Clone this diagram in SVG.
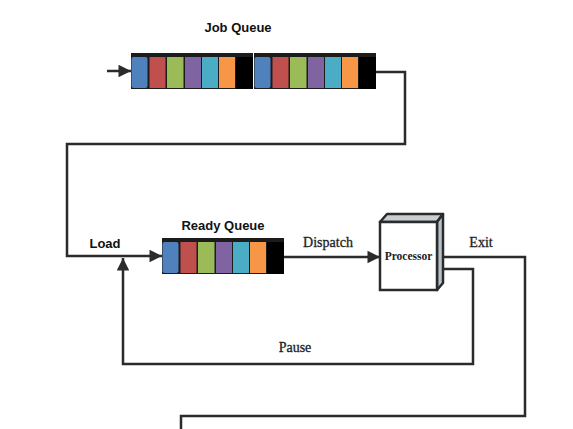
<svg xmlns="http://www.w3.org/2000/svg" width="573" height="429" viewBox="0 0 573 429">
<style>
.ln{fill:none;stroke:#2b2b2b;stroke-width:2.5;stroke-linejoin:miter}
.ttl{font-family:"Liberation Sans",Arial,sans-serif;font-weight:bold;font-size:13px;fill:#111}
.lbl{font-family:"Liberation Serif","Times New Roman",serif;font-size:14px;fill:#222;stroke:#222;stroke-width:0.3}
.q{fill:#1c1c1c}
.b{fill:#4f81bd}.r{fill:#c0504d}.g{fill:#9bbb59}.p{fill:#8064a2}.c{fill:#4bacc6}.o{fill:#f79646}.k{fill:#000}
</style>
<defs>
<marker id="ah" viewBox="0 0 10 10" refX="10" refY="5" markerWidth="6" markerHeight="5" markerUnits="strokeWidth" orient="auto">
<path d="M0,0 L10,5 L0,10 Z" fill="#2b2b2b"/>
</marker>
<g id="queueCells">
<rect class="q" x="0" y="0" width="122" height="36"/>
<rect class="b" x="0.5" y="4" width="16" height="31" rx="2"/>
<rect class="r" x="18.5" y="4" width="16" height="31"/>
<rect class="g" x="36" y="4" width="16.5" height="31"/>
<rect class="p" x="54" y="4" width="16" height="31"/>
<rect class="c" x="71" y="4" width="16" height="31"/>
<rect class="o" x="88" y="4" width="16" height="31"/>
<rect class="k" x="105" y="4" width="17" height="32"/>
</g>
</defs>

<g id="connectors">
<line class="ln" x1="107" y1="71" x2="131" y2="71" marker-end="url(#ah)"/>
<polyline class="ln" points="375,72 405,72 405,144 67,144 67,256 162,256" marker-end="url(#ah)"/>
<line class="ln" x1="283" y1="257" x2="380" y2="257" marker-end="url(#ah)"/>
<polyline class="ln" points="440,269 473,269 473,364 123,364 123,258" marker-end="url(#ah)"/>
<polyline class="ln" points="440,257 525,257 525,416 181,416 181,429"/>
</g>

<g id="job-queue">
<text class="ttl" x="238" y="32" text-anchor="middle">Job Queue</text>
<use href="#queueCells" x="131" y="53"/>
<use href="#queueCells" x="254" y="53"/>
</g>

<g id="ready-queue">
<text class="ttl" x="223" y="230" text-anchor="middle">Ready Queue</text>
<use href="#queueCells" x="162" y="238"/>
</g>

<g id="load-label">
<text class="ttl" x="105" y="248" text-anchor="middle">Load</text>
</g>

<g id="processor">
<polygon points="380,222 387,214 443,214 437,222" fill="#c9ced2" stroke="#2b2b2b" stroke-width="2.5" stroke-linejoin="round"/>
<polygon points="437,222 443,214 443,283 437,290" fill="#b7c3cb" stroke="#2b2b2b" stroke-width="2.5" stroke-linejoin="round"/>
<rect x="380" y="222" width="57" height="68" fill="#fff" stroke="#2b2b2b" stroke-width="2.5"/>
<text x="408.5" y="260" text-anchor="middle" font-family="Liberation Serif,'Times New Roman',serif" font-weight="bold" font-size="11.5" fill="#222">Processor</text>
</g>

<g id="labels">
<text class="lbl" x="328" y="247" text-anchor="middle">Dispatch</text>
<text class="lbl" x="481" y="247" text-anchor="middle">Exit</text>
<text class="lbl" x="295" y="352" text-anchor="middle">Pause</text>
</g>
</svg>
